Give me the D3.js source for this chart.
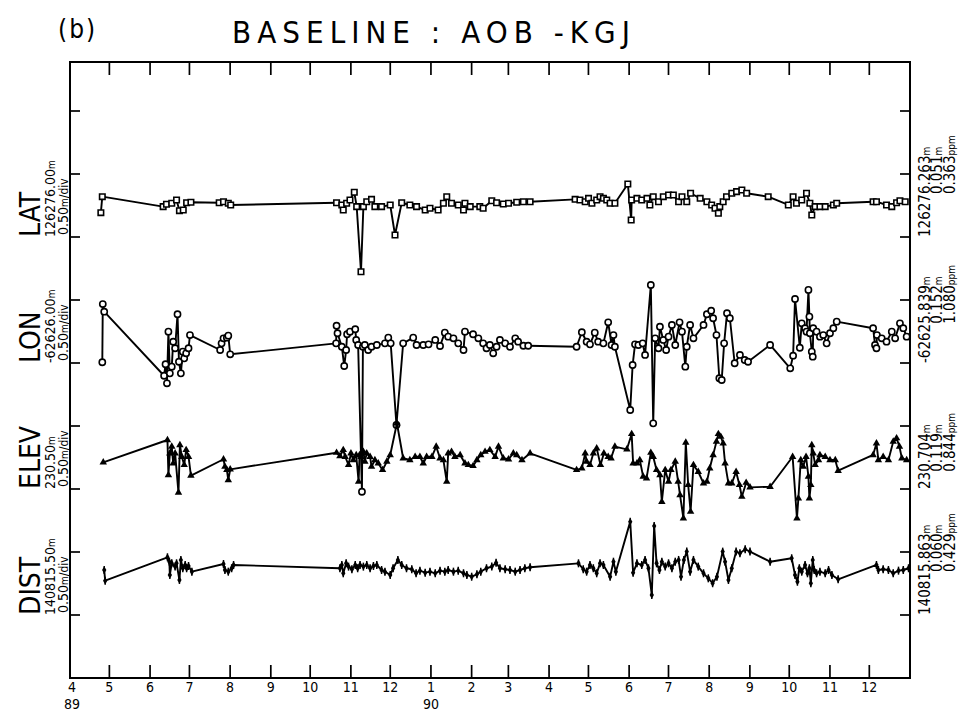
<!DOCTYPE html>
<html>
<head>
<meta charset="utf-8">
<script src="https://cdn.jsdelivr.net/npm/d3@7/dist/d3.min.js"></script>
<style>
  html, body { margin: 0; padding: 0; background: #fff; }
  svg { display: block; }
  text { fill: #000; font-family: "DejaVu Sans Condensed", "Liberation Sans Narrow", "DejaVu Sans", sans-serif; font-stretch: condensed; }
</style>
</head>
<body>
<svg id="chart" width="958" height="713"></svg>
<script>
// ---- baseline components (VLBI baseline AOB - KGJ) ----
const components = ["LAT", "LON", "ELEV", "DIST"];
const refValues  = [126276.00, -62626.00, 230.50, 140815.50];   // reference value at the labelled tick (m)
const refLabels  = ["126276.00", "-62626.00", "230.50", "140815.50"];
const refDivs    = [7, 5, 3, 1];                                 // division where each reference sits
const metresPerDiv = 0.5;
const means  = ["126276.263", "-62625.839", "230.704", "140815.863"];
const sigmas = ["0.051", "0.152", "0.119", "0.060"];
const ppms   = ["0.363", "1.080", "0.844", "0.429"];

// month tick labels, April 1989 .. December 1990
const monthLabels = ["4","5","6","7","8","9","10","11","12","1","2","3","4","5","6","7","8","9","10","11","12"];
const yearLabels  = ["89","","","","","","","","","90","","","","","","","","","","",""];

// epochs in decimal years, values in metres
const LAT = [[1989.311,126276.193],[1989.314,126276.320],[1989.441,126276.241],[1989.448,126276.260],[1989.459,126276.268],[1989.469,126276.294],[1989.475,126276.209],[1989.483,126276.214],[1989.490,126276.272],[1989.499,126276.276],[1989.558,126276.272],[1989.567,126276.280],[1989.577,126276.268],[1989.582,126276.254],[1989.803,126276.272],[1989.814,126276.254],[1989.817,126276.214],[1989.824,126276.268],[1989.831,126276.294],[1989.840,126276.355],[1989.845,126276.241],[1989.854,126275.724],[1989.859,126276.241],[1989.866,126276.280],[1989.876,126276.299],[1989.883,126276.241],[1989.897,126276.241],[1989.915,126276.254],[1989.925,126276.016],[1989.939,126276.272],[1989.956,126276.254],[1989.970,126276.241],[1989.988,126276.214],[1989.998,126276.228],[1990.015,126276.214],[1990.026,126276.268],[1990.033,126276.320],[1990.043,126276.268],[1990.057,126276.254],[1990.068,126276.214],[1990.071,126276.268],[1990.082,126276.241],[1990.102,126276.241],[1990.109,126276.228],[1990.127,126276.288],[1990.137,126276.272],[1990.151,126276.262],[1990.162,126276.268],[1990.179,126276.276],[1990.193,126276.280],[1990.207,126276.280],[1990.301,126276.299],[1990.311,126276.294],[1990.322,126276.280],[1990.329,126276.307],[1990.336,126276.268],[1990.346,126276.294],[1990.353,126276.320],[1990.360,126276.307],[1990.367,126276.294],[1990.374,126276.268],[1990.384,126276.268],[1990.411,126276.421],[1990.418,126276.135],[1990.419,126276.294],[1990.430,126276.307],[1990.440,126276.294],[1990.451,126276.307],[1990.457,126276.254],[1990.464,126276.320],[1990.475,126276.280],[1990.485,126276.320],[1990.496,126276.333],[1990.506,126276.333],[1990.517,126276.280],[1990.524,126276.320],[1990.534,126276.280],[1990.542,126276.347],[1990.562,126276.307],[1990.576,126276.280],[1990.586,126276.254],[1990.593,126276.228],[1990.600,126276.188],[1990.603,126276.241],[1990.610,126276.280],[1990.617,126276.320],[1990.628,126276.347],[1990.638,126276.360],[1990.649,126276.373],[1990.659,126276.347],[1990.704,126276.320],[1990.746,126276.254],[1990.756,126276.320],[1990.763,126276.268],[1990.774,126276.294],[1990.784,126276.347],[1990.791,126276.268],[1990.795,126276.175],[1990.802,126276.241],[1990.812,126276.241],[1990.823,126276.241],[1990.840,126276.254],[1990.847,126276.268],[1990.923,126276.280],[1990.930,126276.280],[1990.951,126276.254],[1990.962,126276.241],[1990.972,126276.272],[1990.979,126276.288],[1990.990,126276.280]];

const LON = [[1989.314,-62625.994],[1989.315,-62625.532],[1989.318,-62625.593],[1989.443,-62626.101],[1989.446,-62626.010],[1989.449,-62626.161],[1989.452,-62625.751],[1989.455,-62626.082],[1989.459,-62626.029],[1989.462,-62625.831],[1989.466,-62625.883],[1989.471,-62625.613],[1989.474,-62625.990],[1989.478,-62626.082],[1989.482,-62625.910],[1989.485,-62625.963],[1989.489,-62625.923],[1989.494,-62625.883],[1989.497,-62625.778],[1989.560,-62625.897],[1989.563,-62625.844],[1989.567,-62625.804],[1989.574,-62625.799],[1989.577,-62625.783],[1989.581,-62625.931],[1989.802,-62625.844],[1989.803,-62625.704],[1989.805,-62625.764],[1989.814,-62625.871],[1989.819,-62626.024],[1989.823,-62625.897],[1989.825,-62625.772],[1989.831,-62625.751],[1989.842,-62625.732],[1989.844,-62625.817],[1989.848,-62625.857],[1989.856,-62627.022],[1989.858,-62625.871],[1989.862,-62625.857],[1989.869,-62625.897],[1989.876,-62625.871],[1989.887,-62625.857],[1989.904,-62625.844],[1989.911,-62625.799],[1989.916,-62625.844],[1989.928,-62626.492],[1989.942,-62625.844],[1989.963,-62625.799],[1989.970,-62625.857],[1989.984,-62625.857],[1989.995,-62625.852],[1990.009,-62625.817],[1990.019,-62625.865],[1990.029,-62625.759],[1990.036,-62625.791],[1990.047,-62625.804],[1990.057,-62625.844],[1990.068,-62625.897],[1990.071,-62625.751],[1990.088,-62625.772],[1990.099,-62625.804],[1990.109,-62625.844],[1990.116,-62625.883],[1990.123,-62625.857],[1990.130,-62625.923],[1990.137,-62625.871],[1990.144,-62625.817],[1990.155,-62625.844],[1990.165,-62625.871],[1990.176,-62625.804],[1990.182,-62625.831],[1990.193,-62625.863],[1990.203,-62625.863],[1990.304,-62625.871],[1990.315,-62625.756],[1990.325,-62625.831],[1990.332,-62625.852],[1990.342,-62625.759],[1990.349,-62625.831],[1990.360,-62625.844],[1990.370,-62625.677],[1990.377,-62625.857],[1990.381,-62625.778],[1990.384,-62625.871],[1990.416,-62626.373],[1990.421,-62626.016],[1990.426,-62625.852],[1990.433,-62625.857],[1990.442,-62625.844],[1990.447,-62625.936],[1990.459,-62625.381],[1990.464,-62626.479],[1990.468,-62625.804],[1990.475,-62625.883],[1990.478,-62625.712],[1990.485,-62625.817],[1990.491,-62625.897],[1990.496,-62625.791],[1990.503,-62625.698],[1990.510,-62625.857],[1990.519,-62625.677],[1990.524,-62625.751],[1990.531,-62626.029],[1990.534,-62625.871],[1990.541,-62625.698],[1990.548,-62625.804],[1990.569,-62625.698],[1990.576,-62625.613],[1990.585,-62625.585],[1990.589,-62625.645],[1990.596,-62625.778],[1990.602,-62626.121],[1990.607,-62626.135],[1990.612,-62625.844],[1990.618,-62625.605],[1990.624,-62625.645],[1990.634,-62626.002],[1990.645,-62625.936],[1990.655,-62625.976],[1990.662,-62625.990],[1990.708,-62625.857],[1990.750,-62626.042],[1990.756,-62625.942],[1990.760,-62625.492],[1990.770,-62625.879],[1990.774,-62625.685],[1990.781,-62625.724],[1990.784,-62625.751],[1990.788,-62625.420],[1990.790,-62625.632],[1990.791,-62625.764],[1990.795,-62625.910],[1990.797,-62625.950],[1990.798,-62625.724],[1990.805,-62625.751],[1990.812,-62625.791],[1990.819,-62625.778],[1990.826,-62625.844],[1990.833,-62625.764],[1990.840,-62625.724],[1990.847,-62625.672],[1990.923,-62625.724],[1990.927,-62625.857],[1990.930,-62625.883],[1990.931,-62625.778],[1990.941,-62625.804],[1990.951,-62625.831],[1990.962,-62625.751],[1990.969,-62625.804],[1990.979,-62625.685],[1990.986,-62625.724],[1990.993,-62625.791]];

const ELEV = [[1989.316,230.712],[1989.450,230.889],[1989.452,230.611],[1989.455,230.783],[1989.459,230.836],[1989.462,230.704],[1989.466,230.783],[1989.473,230.471],[1989.476,230.849],[1989.480,230.756],[1989.485,230.691],[1989.489,230.810],[1989.494,230.756],[1989.499,230.606],[1989.567,230.736],[1989.570,230.677],[1989.574,230.651],[1989.577,230.571],[1989.581,230.656],[1989.803,230.788],[1989.810,230.762],[1989.817,230.810],[1989.821,230.756],[1989.828,230.691],[1989.833,230.783],[1989.838,230.730],[1989.844,230.770],[1989.849,230.558],[1989.851,230.770],[1989.854,230.756],[1989.859,230.796],[1989.862,230.717],[1989.866,230.783],[1989.873,230.756],[1989.876,230.677],[1989.883,230.730],[1989.890,230.704],[1989.899,230.651],[1989.908,230.717],[1989.915,230.770],[1989.929,231.022],[1989.942,230.744],[1989.956,230.730],[1989.967,230.756],[1989.977,230.756],[1989.984,230.704],[1989.991,230.756],[1990.002,230.756],[1990.011,230.836],[1990.019,230.744],[1990.026,230.730],[1990.033,230.558],[1990.036,230.783],[1990.043,230.796],[1990.050,230.756],[1990.061,230.770],[1990.071,230.704],[1990.078,230.691],[1990.088,230.683],[1990.096,230.730],[1990.104,230.770],[1990.113,230.796],[1990.123,230.810],[1990.134,230.756],[1990.141,230.836],[1990.151,230.744],[1990.162,230.736],[1990.172,230.783],[1990.179,230.770],[1990.190,230.730],[1990.207,230.783],[1990.304,230.651],[1990.315,230.664],[1990.322,230.783],[1990.325,230.717],[1990.332,230.691],[1990.339,230.783],[1990.346,230.823],[1990.354,230.691],[1990.361,230.783],[1990.370,230.756],[1990.376,230.744],[1990.384,230.836],[1990.409,230.815],[1990.419,230.937],[1990.422,230.704],[1990.430,230.704],[1990.436,230.730],[1990.443,230.598],[1990.450,230.585],[1990.459,230.788],[1990.464,230.756],[1990.471,230.651],[1990.478,230.611],[1990.482,230.399],[1990.489,230.651],[1990.496,230.558],[1990.501,230.651],[1990.510,230.717],[1990.516,230.558],[1990.520,230.452],[1990.527,230.267],[1990.532,230.868],[1990.537,230.532],[1990.542,230.320],[1990.548,230.691],[1990.558,230.637],[1990.569,230.545],[1990.576,230.558],[1990.582,230.664],[1990.589,230.770],[1990.596,230.876],[1990.600,230.937],[1990.605,230.915],[1990.610,230.863],[1990.614,230.704],[1990.621,230.545],[1990.628,230.545],[1990.637,230.637],[1990.644,230.532],[1990.649,230.439],[1990.658,230.550],[1990.666,230.513],[1990.708,230.518],[1990.755,230.756],[1990.764,230.267],[1990.767,230.426],[1990.772,230.730],[1990.777,230.677],[1990.783,230.756],[1990.788,230.598],[1990.790,230.426],[1990.793,230.532],[1990.795,230.849],[1990.798,230.783],[1990.802,230.691],[1990.809,230.730],[1990.812,230.770],[1990.823,230.756],[1990.833,230.730],[1990.844,230.730],[1990.850,230.645],[1990.923,230.770],[1990.930,230.863],[1990.934,230.730],[1990.944,230.756],[1990.955,230.730],[1990.965,230.876],[1990.972,230.903],[1990.978,230.836],[1990.983,230.744],[1990.993,230.730]];

const DIST = [[1989.318,140815.857],[1989.320,140815.772],[1989.450,140815.958],[1989.454,140815.923],[1989.455,140815.818],[1989.459,140815.910],[1989.466,140815.884],[1989.469,140815.910],[1989.475,140815.778],[1989.478,140815.937],[1989.482,140815.871],[1989.487,140815.897],[1989.490,140815.871],[1989.494,140815.889],[1989.501,140815.844],[1989.567,140815.905],[1989.570,140815.857],[1989.577,140815.844],[1989.584,140815.871],[1989.588,140815.897],[1989.810,140815.871],[1989.814,140815.897],[1989.817,140815.831],[1989.823,140815.910],[1989.828,140815.884],[1989.835,140815.863],[1989.842,140815.897],[1989.847,140815.871],[1989.852,140815.897],[1989.859,140815.884],[1989.866,140815.897],[1989.873,140815.871],[1989.880,140815.889],[1989.887,140815.897],[1989.897,140815.857],[1989.904,140815.844],[1989.915,140815.818],[1989.921,140815.871],[1989.931,140815.937],[1989.939,140815.897],[1989.949,140815.871],[1989.960,140815.863],[1989.969,140815.831],[1989.977,140815.852],[1989.988,140815.836],[1989.998,140815.844],[1990.009,140815.831],[1990.019,140815.852],[1990.029,140815.844],[1990.036,140815.857],[1990.047,140815.844],[1990.057,140815.852],[1990.068,140815.831],[1990.075,140815.818],[1990.085,140815.804],[1990.096,140815.823],[1990.104,140815.844],[1990.116,140815.871],[1990.127,140815.884],[1990.136,140815.915],[1990.144,140815.871],[1990.155,140815.863],[1990.165,140815.857],[1990.176,140815.844],[1990.186,140815.857],[1990.196,140815.871],[1990.207,140815.879],[1990.308,140815.910],[1990.318,140815.863],[1990.325,140815.844],[1990.332,140815.897],[1990.339,140815.871],[1990.346,140815.831],[1990.353,140815.910],[1990.360,140815.897],[1990.374,140815.804],[1990.381,140815.923],[1990.386,140815.844],[1990.416,140816.241],[1990.422,140815.836],[1990.430,140815.910],[1990.440,140815.897],[1990.447,140815.937],[1990.454,140815.871],[1990.461,140815.659],[1990.466,140816.207],[1990.471,140815.910],[1990.477,140815.857],[1990.482,140815.923],[1990.489,140815.884],[1990.496,140815.910],[1990.503,140815.871],[1990.510,140815.923],[1990.517,140815.937],[1990.522,140815.804],[1990.528,140815.937],[1990.534,140816.003],[1990.541,140815.844],[1990.548,140815.937],[1990.558,140815.884],[1990.569,140815.831],[1990.579,140815.791],[1990.588,140815.752],[1990.597,140815.804],[1990.609,140816.003],[1990.614,140815.923],[1990.621,140815.778],[1990.628,140815.871],[1990.637,140816.003],[1990.645,140815.990],[1990.656,140816.022],[1990.666,140816.003],[1990.708,140815.923],[1990.753,140815.950],[1990.760,140815.818],[1990.765,140815.764],[1990.769,140815.871],[1990.774,140815.844],[1990.781,140815.897],[1990.786,140815.831],[1990.790,140815.871],[1990.793,140815.752],[1990.797,140815.937],[1990.800,140815.857],[1990.805,140815.831],[1990.812,140815.844],[1990.823,140815.831],[1990.830,140815.857],[1990.837,140815.818],[1990.850,140815.783],[1990.930,140815.897],[1990.934,140815.857],[1990.944,140815.863],[1990.955,140815.857],[1990.965,140815.831],[1990.976,140815.852],[1990.986,140815.857],[1990.997,140815.871]];

const series = [LAT, LON, ELEV, DIST];

// ---- layout ----
const W = 958, H = 713;
const frame = { left: 70, right: 910, top: 62, bottom: 678 };
const divPx = 63;                       // one vertical division in pixels
const nDivTop = (frame.bottom - frame.top) / divPx;

const svg = d3.select("#chart");
svg.append("rect").attr("width", W).attr("height", H).attr("fill", "#fff");

// decimal year -> Date
function decYear(t) {
  const y = Math.floor(t);
  const a = Date.UTC(y, 0, 1), b = Date.UTC(y + 1, 0, 1);
  return new Date(a + (t - y) * (b - a));
}

const x = d3.scaleUtc()
  .domain([new Date(Date.UTC(1989, 3, 1)), new Date(Date.UTC(1991, 0, 1))])
  .range([frame.left, frame.right]);

const yDiv = d3.scaleLinear().domain([0, nDivTop]).range([frame.bottom, frame.top]);
const yOf = (i, v) => yDiv(refDivs[i] + (v - refValues[i]) / metresPerDiv);

// ---- frame and ticks ----
const axisG = svg.append("g").attr("stroke", "#000").attr("fill", "none");
axisG.append("rect")
  .attr("x", frame.left).attr("y", frame.top)
  .attr("width", frame.right - frame.left).attr("height", frame.bottom - frame.top)
  .attr("stroke-width", 2);

const monthTicks = d3.utcMonth.range(new Date(Date.UTC(1989, 3, 1)), new Date(Date.UTC(1991, 0, 1)));
const tickLen = 13;
monthTicks.forEach((d, k) => {
  if (k === 0) return;
  const px = x(d);
  axisG.append("line").attr("x1", px).attr("x2", px)
    .attr("y1", frame.bottom).attr("y2", frame.bottom - tickLen).attr("stroke-width", 1.7);
  axisG.append("line").attr("x1", px).attr("x2", px)
    .attr("y1", frame.top).attr("y2", frame.top + tickLen).attr("stroke-width", 1.7);
});

d3.range(1, 10).forEach(k => {
  const py = yDiv(k);
  axisG.append("line").attr("x1", frame.left).attr("x2", frame.left + 10)
    .attr("y1", py).attr("y2", py).attr("stroke-width", 1.7);
  axisG.append("line").attr("x1", frame.right).attr("x2", frame.right - 10)
    .attr("y1", py).attr("y2", py).attr("stroke-width", 1.7);
});

// month labels, with the year under April 1989 and January 1990
const labG = svg.append("g").attr("font-size", 14).attr("text-anchor", "middle");
monthTicks.forEach((d, k) => {
  const px = x(d) + (k === 0 ? 2 : 0);
  labG.append("text").attr("x", px).attr("y", 692).text(monthLabels[k]);
  if (yearLabels[k]) labG.append("text").attr("x", px).attr("y", 709).text(yearLabels[k]);
});

// ---- title ----
svg.append("text").attr("x", 58).attr("y", 38).attr("font-size", 26)
  .attr("letter-spacing", 2).text("(b)");
svg.append("text").attr("x", 232).attr("y", 43).attr("font-size", 31)
  .attr("textLength", 398).attr("lengthAdjust", "spacing")
  .text("BASELINE : AOB -KGJ");

// ---- series ----
series.forEach((data, i) => {
  const g = svg.append("g");
  const ln = d3.line().x(d => x(decYear(d[0]))).y(d => yOf(i, d[1]));
  g.append("path").attr("d", ln(data))
    .attr("fill", "none").attr("stroke", "#000").attr("stroke-width", 1.9)
    .attr("stroke-linejoin", "round");

  const pts = g.selectAll("g.pt").data(data).join("g")
    .attr("transform", d => `translate(${x(decYear(d[0]))},${yOf(i, d[1])})`);
  if (i === 0) {
    pts.append("path").attr("d", d3.symbol(d3.symbolSquare, 30)())
      .attr("fill", "#fff").attr("stroke", "#000").attr("stroke-width", 1.6);
  } else if (i === 1) {
    pts.append("circle").attr("r", 3.1)
      .attr("fill", "#fff").attr("stroke", "#000").attr("stroke-width", 1.6);
  } else if (i === 2) {
    pts.append("path").attr("d", d3.symbol(d3.symbolTriangle, 24)()).attr("fill", "#000");
  } else {
    pts.append("path").attr("d", d3.symbol(d3.symbolDiamond, 16)()).attr("fill", "#000");
    pts.append("line").attr("y1", -4).attr("y2", 4).attr("stroke", "#000").attr("stroke-width", 1.5);
  }
});

// ---- left labels (rotated, starting at each reference tick) ----
components.forEach((name, i) => {
  const y0 = yDiv(refDivs[i]);
  svg.append("text").attr("transform", `translate(40,${y0}) rotate(-90)`)
    .attr("font-size", 28).text(name);
  const t2 = svg.append("text").attr("transform", `translate(55,${y0}) rotate(-90)`).attr("font-size", 14);
  t2.append("tspan").text(refLabels[i]);
  t2.append("tspan").attr("font-size", 10).text("m");
  const t3 = svg.append("text").attr("transform", `translate(68,${y0 - 2}) rotate(-90)`).attr("font-size", 14);
  t3.append("tspan").text((metresPerDiv).toFixed(2));
  t3.append("tspan").attr("font-size", 10).text("m");
  t3.append("tspan").attr("font-size", 12).text("/div");
});

// ---- right labels: mean, sigma, ppm (decimal points aligned) ----
function measure(str, size) {
  const t = svg.append("text").attr("font-size", size).text(str);
  const w = t.node().getComputedTextLength();
  t.remove();
  return w;
}
components.forEach((name, i) => {
  const y0 = yDiv(refDivs[i]);
  const fs = 15;
  const intMain = means[i].split(".")[0];
  const shift = measure(intMain, fs) - measure("0", fs);
  const rows = [[means[i], "m", 0], [sigmas[i], "m", shift], [ppms[i], "ppm", shift]];
  const cols = [930, 942, 955];
  rows.forEach((r, k) => {
    const t = svg.append("text")
      .attr("transform", `translate(${cols[k]},${y0 - r[2]}) rotate(-90)`)
      .attr("font-size", fs);
    t.append("tspan").text(r[0]);
    t.append("tspan").attr("font-size", 10).text(r[1]);
  });
});
</script>
</body>
</html>
